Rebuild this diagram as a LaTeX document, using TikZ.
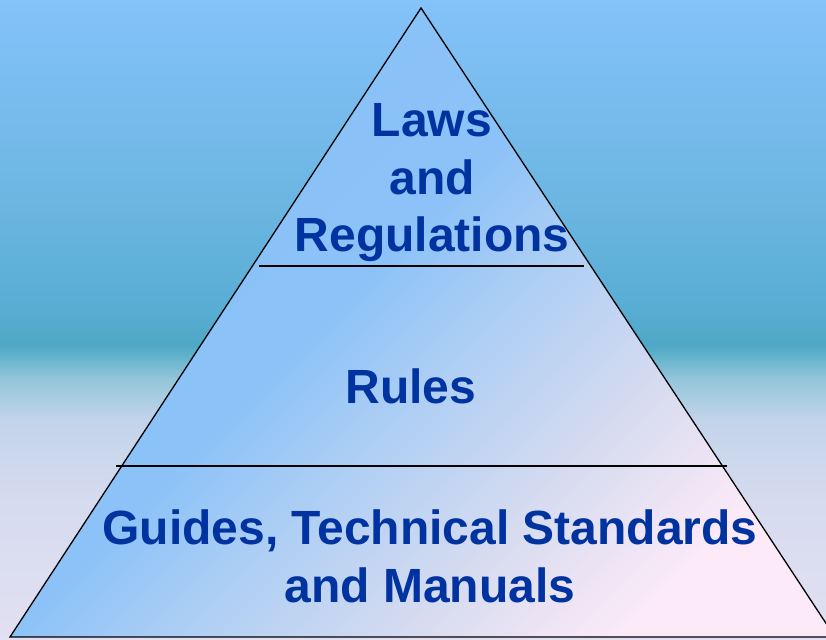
\documentclass[tikz,border=0pt]{standalone}
\usepackage{fontspec}
\setmainfont{Liberation Sans}
\definecolor{txt}{HTML}{0033A0}
\definecolor{bA}{HTML}{E2E0F2}
\definecolor{bB}{HTML}{D6DBEF}
\definecolor{bC}{HTML}{C2D4EA}
\definecolor{bD}{HTML}{96C6DA}
\definecolor{bE}{HTML}{60B2CC}
\definecolor{bF}{HTML}{4EA8C6}
\definecolor{bG}{HTML}{5AAED6}
\definecolor{bH}{HTML}{6CB6E2}
\definecolor{bI}{HTML}{84C2FA}
\definecolor{tA}{HTML}{FCEAF8}
\definecolor{tB}{HTML}{D8DCF0}
\definecolor{tC}{HTML}{ACCEF4}
\definecolor{tD}{HTML}{8CC2F8}
\definecolor{tE}{HTML}{86C2F6}
\pgfdeclareverticalshading{bgshade}{100bp}{color(0bp)=(bA); color(25bp)=(bA); color(35.88bp)=(bB); color(42.14bp)=(bC); color(45.27bp)=(bD); color(47.22bp)=(bE); color(48bp)=(bF); color(51.53bp)=(bG); color(59.35bp)=(bH); color(75bp)=(bI); color(100bp)=(bI)}
\pgfdeclareverticalshading{trishade}{100bp}{color(0bp)=(tA); color(25bp)=(tA); color(35bp)=(tB); color(47bp)=(tC); color(55bp)=(tD); color(75bp)=(tE); color(100bp)=(tE)}
\tikzset{
  lbl/.style={anchor=base, inner sep=0pt, text=txt, font=\fontsize{48}{57.5}\selectfont\bfseries},
  edge/.style={draw=black, line width=1.3pt, line join=miter},
  sep/.style={draw=black, line width=1.6pt}
}
\begin{document}
\begin{tikzpicture}[x=1pt,y=1pt]
\useasboundingbox (0,0) rectangle (826,639);
\clip (0,0) rectangle (826,639);
\shade[shading=bgshade] (0,0) rectangle (826,639);
\coordinate (apex) at (421,631);
\coordinate (bl) at (10,2);
\coordinate (br) at (835,2);
\path[edge, shading=trishade, shading angle=45] (apex) -- (br) -- (bl) -- cycle;
\coordinate (s1l) at (259,373);
\coordinate (s1r) at (584,373);
\coordinate (s2l) at (116,173);
\coordinate (s2r) at (727,173);
\draw[sep] (s1l) -- (s1r);
\draw[sep] (s2l) -- (s2r);
\node[lbl] (laws) at (432,502) {Laws};
\node[lbl] (and1) at (432,444) {and};
\node[lbl] (regs) at (432,387) {Regulations};
\node[lbl] (rules) at (411,235) {Rules};
\node[lbl] (guides) at (430,94) {Guides, Technical Standards};
\node[lbl] (manuals) at (430,37) {and Manuals};
\end{tikzpicture}
\end{document}
